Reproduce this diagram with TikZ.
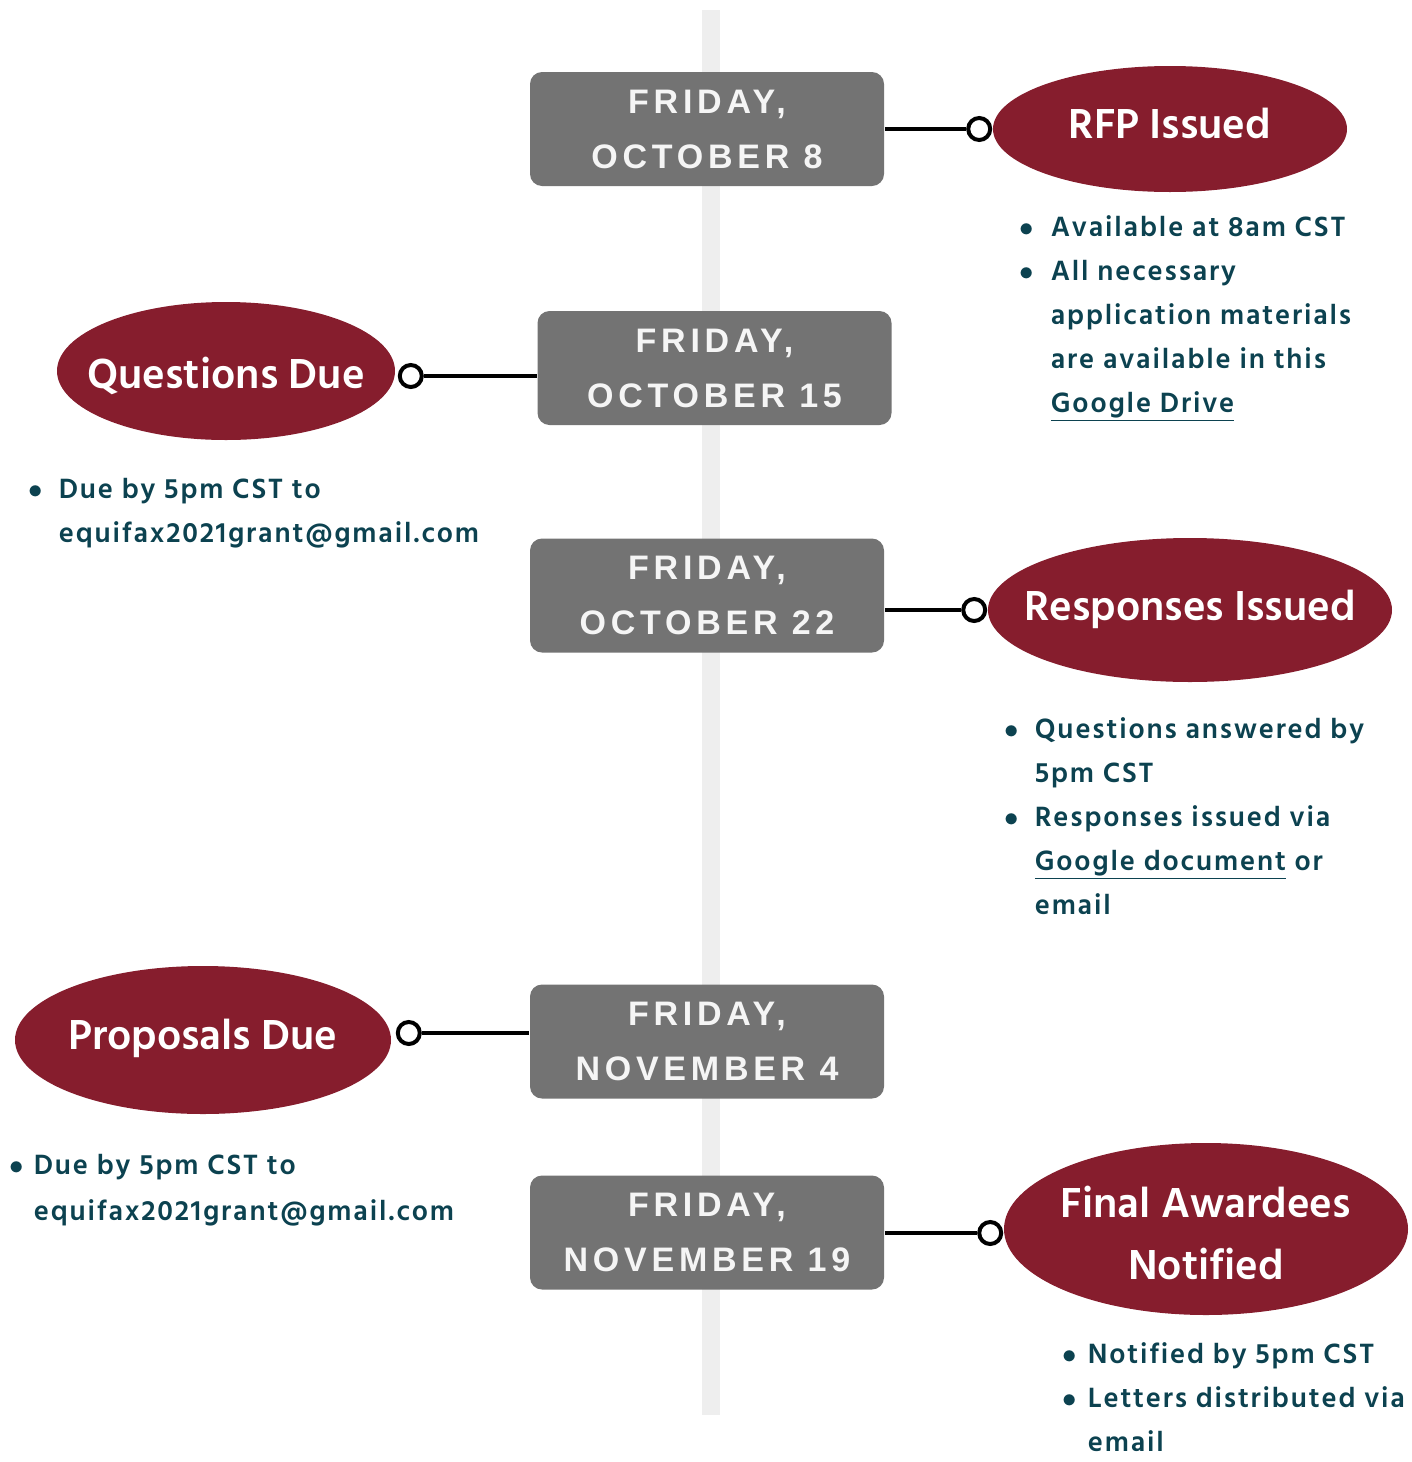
\documentclass[tikz,border=0pt]{standalone}
\usepackage{fontspec}
\usepackage{xcolor}
\usepackage{tikz}
\usetikzlibrary{shapes, positioning}

\setmainfont{Hind Siliguri}
\newfontfamily\notefont{Hind Siliguri}[LetterSpace=6.5]
\newfontfamily\datefont{Liberation Sans}[LetterSpace=14]

\definecolor{maroon}{HTML}{861D2D}
\definecolor{boxgray}{HTML}{737373}
\definecolor{bargray}{HTML}{EEEEEE}
\definecolor{teal}{HTML}{0C4250}

\begin{document}
\begin{tikzpicture}[x=0.5pt, y=-0.5pt, thick, font=\bfseries,
    datebox/.style={fill=boxgray, rounded corners=6pt, minimum width=177pt, minimum height=57pt,
        text=white!96!black, align=center, font=\datefont\bfseries\fontsize{17}{27.5}\selectfont},
    event/.style={ellipse, fill=maroon, inner sep=0pt},
    eventtext/.style={text=white, align=center, inner sep=0pt, font=\bfseries\fontsize{21.5}{31}\selectfont},
    dot/.style={circle, draw, line width=2pt, fill=white, minimum size=11pt, inner sep=0pt},
    link/.style={line width=2pt},
    notes/.style={anchor=base west, inner sep=0pt, text=teal, font=\notefont\bfseries\fontsize{14.3}{22}\selectfont}]
        \useasboundingbox (0,0) rectangle (1412,1462);

        % Timeline
        \fill[bargray] (702,10) rectangle (720,1415);

        % Dates
        \node[datebox] (oct8) at (707,129) {FRIDAY,\\OCTOBER 8};
        \node[datebox] (oct15) at (714.5,368) {FRIDAY,\\OCTOBER 15};
        \node[datebox] (oct22) at (707,595.5) {FRIDAY,\\OCTOBER 22};
        \node[datebox] (nov4) at (707,1041.5) {FRIDAY,\\NOVEMBER 4};
        \node[datebox] (nov19) at (707,1232.5) {FRIDAY,\\NOVEMBER 19};

        % Events
        \node[event, minimum width=177pt, minimum height=63pt] (rfp) at (1170,129) {};
        \node[eventtext, yshift=3pt] (rfp-t) at (rfp) {RFP Issued};
        \node[event, minimum width=169pt, minimum height=69pt] (questions) at (226,371) {};
        \node[eventtext, yshift=-2.5pt] (questions-t) at (questions) {Questions Due};
        \node[event, minimum width=202pt, minimum height=72pt] (responses) at (1190,610) {};
        \node[eventtext, yshift=0.5pt] (responses-t) at (responses) {Responses Issued};
        \node[event, minimum width=188pt, minimum height=74pt] (proposals) at (203,1040) {};
        \node[eventtext, yshift=1pt] (proposals-t) at (proposals) {Proposals Due};
        \node[event, minimum width=202pt, minimum height=86pt] (awardees) at (1206,1229) {};
        \node[eventtext, yshift=-2pt] (awardees-t) at (awardees) {Final Awardees\\Notified};

        % Dots
        \node[dot, left=0pt of rfp] (rfpdot) {};
        \node[dot, right=1pt of questions, yshift=-2.5pt] (questionsdot) {};
        \node[dot, left=0pt of responses] (responsesdot) {};
        \node[dot, right=2pt of proposals, yshift=3.5pt] (proposalsdot) {};
        \node[dot, left=0pt of awardees, yshift=-2pt] (awardeesdot) {};

        % Links
        \draw[link] (rfpdot -| oct8.east) -- (rfpdot);
        \draw[link] (questionsdot) -- (questionsdot -| oct15.west);
        \draw[link] (responsesdot -| oct22.east) -- (responsesdot);
        \draw[link] (proposalsdot) -- (proposalsdot -| nov4.west);
        \draw[link] (awardeesdot -| nov19.east) -- (awardeesdot);

        % Notes
        \node[notes] (rfpnotes) at (1019,236) {\begin{tabular}[t]{@{}p{15.5pt}@{}l@{}}
            $\bullet$ & Available at 8am CST\\
            $\bullet$ & All necessary\\
            & application materials\\
            & are available in this\\
            & \underline{Google Drive}\end{tabular}};
        \node[notes] (questionsnotes) at (28,498) {\begin{tabular}[t]{@{}p{15pt}@{}l@{}}
            $\bullet$ & Due by 5pm CST to\\
            & equifax2021grant@gmail.com\end{tabular}};
        \node[notes] (responsesnotes) at (1004,738) {\begin{tabular}[t]{@{}p{15pt}@{}l@{}}
            $\bullet$ & Questions answered by\\
            & 5pm CST\\
            $\bullet$ & Responses issued via\\
            & \underline{Google document} or\\
            & email\end{tabular}};
        \node[notes, font=\notefont\bfseries\fontsize{14.3}{23}\selectfont] (proposalsnotes) at (9,1174) {\begin{tabular}[t]{@{}p{12pt}@{}l@{}}
            $\bullet$ & Due by 5pm CST to\\
            & equifax2021grant@gmail.com\end{tabular}};
        \node[notes, font=\notefont\bfseries\fontsize{14.3}{22}\selectfont] (awardeesnotes) at (1062,1363) {\begin{tabular}[t]{@{}p{12.5pt}@{}l@{}}
            $\bullet$ & Notified by 5pm CST\\
            $\bullet$ & Letters distributed via\\
            & email\end{tabular}};

    \end{tikzpicture}
\end{document}
